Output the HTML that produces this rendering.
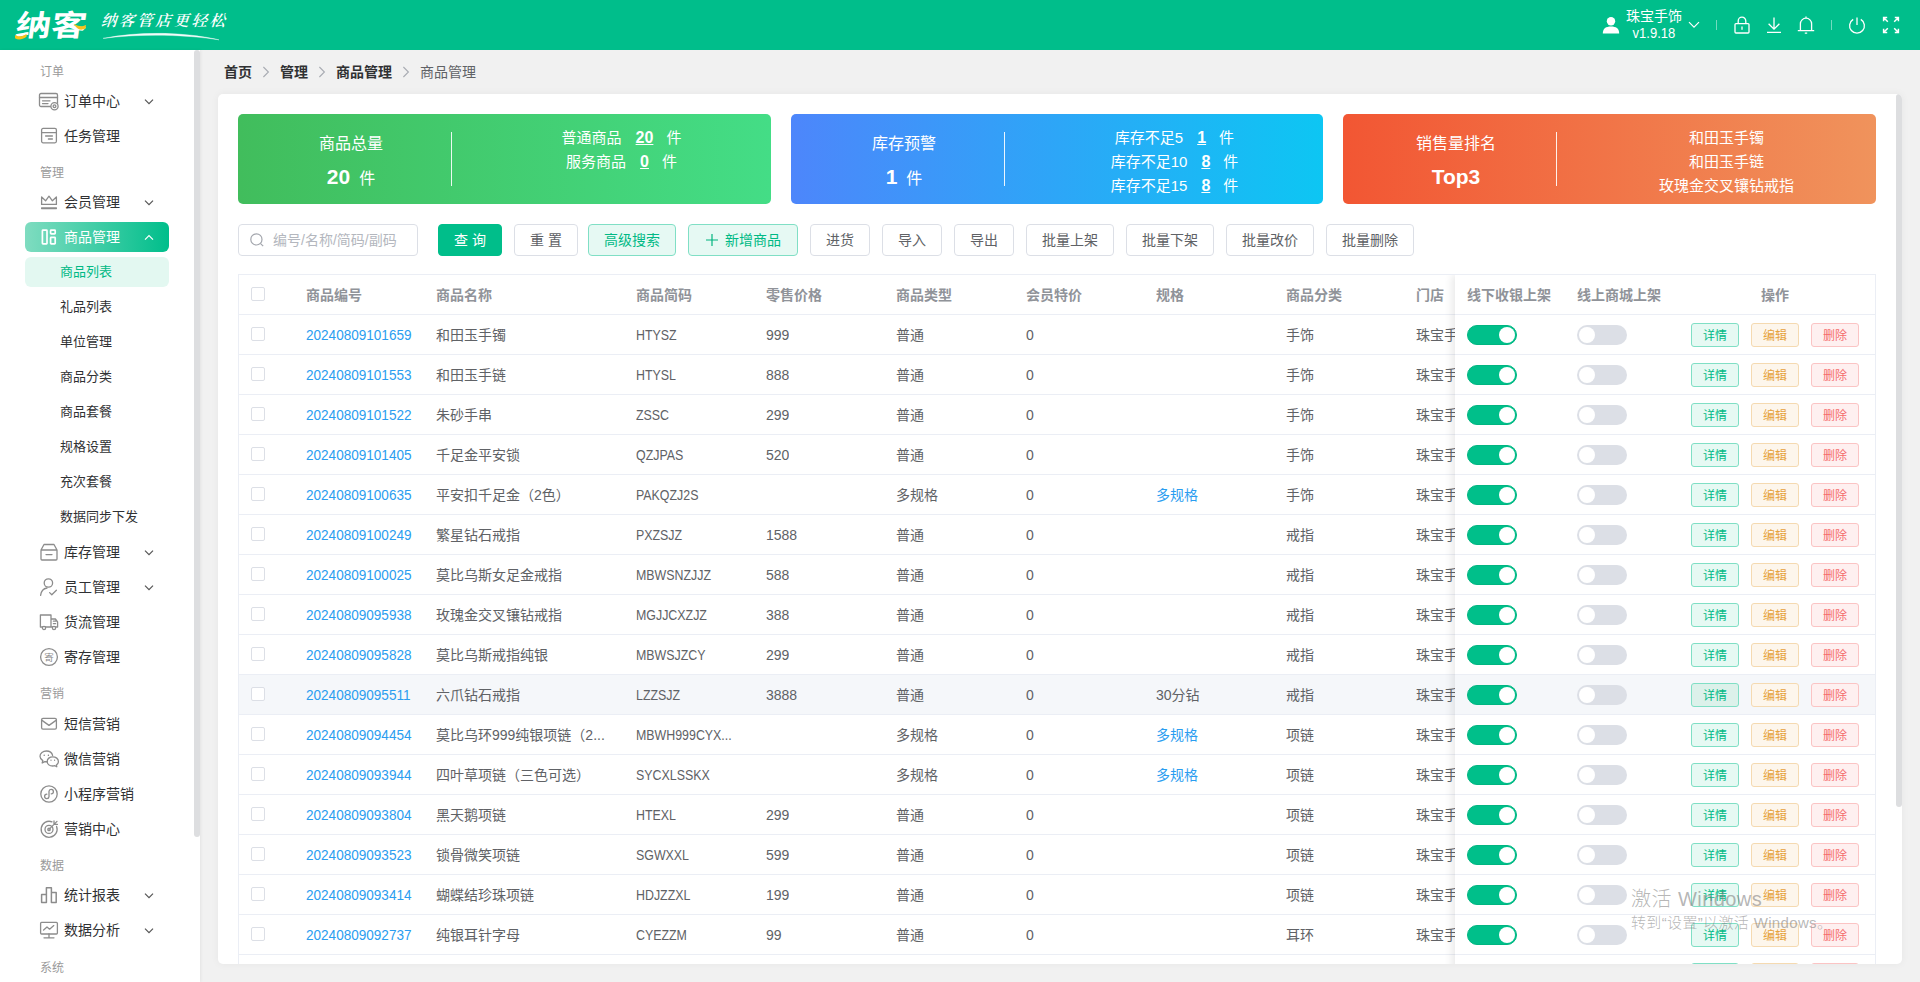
<!DOCTYPE html>
<html lang="zh-CN">
<head>
<meta charset="utf-8">
<title>商品管理</title>
<style>
*{box-sizing:border-box;margin:0;padding:0}
html,body{width:1920px;height:982px;overflow:hidden}
body{font-family:"Liberation Sans","Noto Sans CJK SC",sans-serif;font-size:14px;color:#606266;background:#f1f1f1;position:relative}
svg{display:block}
/* ---------- header ---------- */
#hd{position:absolute;left:0;top:0;width:1920px;height:50px;background:#00be8b;color:#fff}
#logo{position:absolute;left:16px;top:4px;font-size:29.5px;font-weight:700;letter-spacing:0;line-height:44px;transform:skewX(-8deg) scaleX(1.2);transform-origin:0 50%}
#slogan{position:absolute;left:101px;top:10px;font-size:15.5px;line-height:22px;letter-spacing:2.6px;font-family:"Liberation Serif","Noto Serif CJK SC",serif;font-style:italic;font-weight:600;transform:skewX(-4deg)}
#hd .user{position:absolute;left:1626px;top:8px;width:56px;text-align:center;font-size:14px;line-height:17px;white-space:nowrap}
#hd .ico{position:absolute;top:0}
#hd .sep{position:absolute;top:20px;width:1px;height:10px;background:rgba(255,255,255,.45)}
/* ---------- sidebar ---------- */
#sb{position:absolute;left:0;top:50px;width:200px;height:932px;background:#fff;overflow:hidden;box-shadow:1px 0 3px rgba(0,0,0,.06)}
#sb .thumb{position:absolute;left:194px;top:0;width:6px;height:787px;background:#dddee0;border-radius:3px}
#sb .lab{position:absolute;left:40px;font-size:12px;color:#9a9a9a;line-height:16px}
#sb .it{position:absolute;left:25px;width:144px;height:30px;line-height:30px;font-size:14px;color:#303133;border-radius:6px}
#sb .it .t{position:absolute;left:39px;top:0}
#sb .it svg.i{position:absolute;left:13px;top:4px}
#sb .it svg.ar{position:absolute;left:119px;top:12px}
#sb .it.on{background:linear-gradient(90deg,#7fdcc0 0%,#00be8b 100%);color:#fff}
#sb .sub{position:absolute;left:25px;width:144px;height:30px;line-height:30px;font-size:13px;color:#303133;border-radius:6px;padding-left:35px}
#sb .sub.on{background:#e3f8f1;color:#00b985}
/* ---------- main ---------- */
#bc{position:absolute;left:224px;top:62px;height:20px;line-height:20px;font-size:14px;color:#303133;font-weight:700;white-space:nowrap}
#bc span{position:absolute;top:0}
#bc .n{font-weight:400;color:#606266}
#bc svg{position:absolute;top:4px}
#card{position:absolute;left:218px;top:94px;width:1684px;height:870px;background:#fff;border-radius:5px;overflow:hidden;box-shadow:0 0 8px rgba(0,0,0,.05)}
#card .vthumb{position:absolute;left:1678px;top:0;width:6px;height:713px;background:#dddee0;border-radius:3px}
.stat{position:absolute;top:20px;width:533px;height:90px;border-radius:5px;color:#fff}
.stat .l{position:absolute;left:0;top:0;width:226px;text-align:center}
.stat .l .a{position:absolute;left:0;width:226px;top:19px;font-size:16px;line-height:22px}
.stat .l .b{position:absolute;left:0;width:226px;top:49px;font-size:16px;line-height:28px}
.stat .l .b b{font-size:21px;font-weight:700;margin-right:9px}
.stat .dv{position:absolute;left:213px;top:18px;width:1px;height:54px;background:rgba(255,255,255,.9)}
.stat .r{position:absolute;left:234px;width:299px;text-align:center;font-size:15px;line-height:24px}
.stat .r u{font-weight:700;font-size:16px;margin:0 13px 0 14px}
/* toolbar */
.inp{position:absolute;left:20px;top:130px;width:180px;height:32px;border:1px solid #dcdfe6;border-radius:4px;color:#b4b7be;font-size:14px;line-height:30px;padding-left:34px;white-space:nowrap}
.inp svg{position:absolute;left:10px;top:7px}
.btn{position:absolute;top:130px;height:32px;line-height:30px;border:1px solid #dcdfe6;border-radius:4px;background:#fff;color:#606266;font-size:14px;text-align:center;white-space:nowrap}
.btn.p{background:#00be8a;border-color:#00be8a;color:#fff}
.btn.g{background:#e6f9f3;border-color:#80dfc5;color:#00b985}
/* table */
#tb{position:absolute;left:20px;top:180px;width:1638px;height:700px;border-left:1px solid #ebeef5;border-top:1px solid #ebeef5;border-right:1px solid #ebeef5;overflow:hidden}
.row{position:absolute;left:0;width:1636px;height:40px;border-bottom:1px solid #ebeef5;line-height:41px;color:#606266;white-space:nowrap}
.row.h{color:#909399;font-weight:700}
.row.hv{background:#f5f7fa}
.row span{position:absolute;top:0;overflow:hidden;text-overflow:ellipsis}
.row a{color:#2a9df0;text-decoration:none}
.cb{position:absolute;left:12px;top:12px;width:14px;height:14px;border:1px solid #dcdfe6;border-radius:2px;background:#fff}
#fx{position:absolute;left:1216px;top:0;width:420px;height:700px;background:#fff;box-shadow:-3px 0 8px rgba(0,0,0,.09)}
#fx .row{width:420px}
#fx .row.hv{background:#f5f7fa}
.sw{position:absolute;top:10px;width:50px;height:20px;border-radius:10px;background:#dcdfe6}
.sw i{position:absolute;left:2px;top:2px;width:16px;height:16px;border-radius:8px;background:#fff}
.sw.on{background:#00bf8a;border:1px solid #00b681}
.sw.on i{top:1px}
.sw.on i{left:31px}
.ob{position:absolute;top:8px;width:48px;height:24px;line-height:24px;border-radius:3px;font-size:12px;font-weight:400;text-align:center;border:1px solid}
.ob.d{left:236px;color:#00b985;background:#e6f9f3;border-color:#80dfc5}
.ob.e{left:296px;color:#e6a23c;background:#fdf6ec;border-color:#f5dab1}
.ob.x{left:356px;color:#f56c6c;background:#fef0f0;border-color:#fbc4c4}
#wm{position:absolute;left:1631px;top:885px;color:rgba(120,120,120,.55);white-space:nowrap;font-family:"Liberation Sans","Noto Sans CJK SC",sans-serif}
#wm .a{font-size:20px;line-height:28px;font-weight:300;letter-spacing:.45px}
#wm .b{font-size:15px;line-height:20px;font-weight:300;letter-spacing:.35px}
.row a.id{display:inline-block;transform:scaleX(.968);transform-origin:0 50%}
.row em{font-style:normal;display:inline-block;transform:scaleX(.885);transform-origin:0 50%}
#hd .user em{font-style:normal;display:inline-block;transform:scaleX(.93)}
.row.hv .ob.d{background:#dcf1ea}
</style>
</head>
<body>

<div id="hd">
  <div id="logo">纳客</div>
  <svg class="ico" style="left:0;top:0" width="240" height="50" viewBox="0 0 240 50">
    <path d="M15 35 C19 37.2 22 36.6 26.5 34 L26.5 36.8 C22 40 18 40 15 38.2 Z" fill="#f6c21c"/>
    <path d="M73.6 24 C78 25.6 80 27.6 86 25 L85.6 28.2 C80 31.4 77 29 73.6 24 Z" fill="#f6c21c"/>
    <path d="M103 38.4 C140 31 185 32 219 39.8 C185 34.4 140 33.6 103 38.4 Z" fill="#fff" opacity=".95" stroke="#fff" stroke-width=".4"/>
  </svg>
  <div id="slogan">纳客管店更轻松</div>
  <svg class="ico" style="left:1600px;top:14px" width="22" height="22" viewBox="0 0 22 22"><circle cx="11" cy="7.2" r="4.2" fill="#fff"/><path d="M2.8 19.5 C2.8 14.5 6 12.6 11 12.6 C16 12.6 19.2 14.5 19.2 19.5 Z" fill="#fff"/></svg>
  <div class="user">珠宝手饰<br><em>v1.9.18</em></div>
  <svg class="ico" style="left:1688px;top:21px" width="12" height="8" viewBox="0 0 12 8"><path d="M1 1.2 L6 6.2 L11 1.2" fill="none" stroke="#fff" stroke-width="1.2"/></svg>
  <div class="sep" style="left:1716px"></div>
  <svg class="ico" style="left:1732px;top:15px" width="20" height="20" viewBox="0 0 20 20" fill="none" stroke="#fff" stroke-width="1.3"><rect x="3" y="8.6" width="14" height="9.4" rx="1"/><path d="M6.2 8.6 V6 a3.8 3.8 0 0 1 7.6 0 V8.6"/><path d="M10 11.6 v3.2"/></svg>
  <svg class="ico" style="left:1764px;top:15px" width="20" height="20" viewBox="0 0 20 20" fill="none" stroke="#fff" stroke-width="1.3"><path d="M10 2.5 V14 M4.6 8.8 L10 14.2 L15.4 8.8 M3 17.4 H17"/></svg>
  <svg class="ico" style="left:1796px;top:15px" width="20" height="20" viewBox="0 0 20 20" fill="none" stroke="#fff" stroke-width="1.3"><path d="M10 1.6 v1.6 M4.4 15.6 V8.8 a5.6 5.6 0 0 1 11.2 0 V15.6 M1.8 15.6 H18.2 M8.8 18.2 h2.4"/></svg>
  <div class="sep" style="left:1831px"></div>
  <svg class="ico" style="left:1847px;top:15px" width="20" height="20" viewBox="0 0 20 20" fill="none" stroke="#fff" stroke-width="1.3"><path d="M10 2.4 V10 M6.2 4.4 a7.4 7.4 0 1 0 7.6 0"/></svg>
  <svg class="ico" style="left:1881px;top:15px" width="20" height="20" viewBox="0 0 20 20" fill="none" stroke="#fff" stroke-width="1.5"><path d="M2.6 6.2 V2.6 H6.2 M2.8 2.8 L6.8 6.8 M13.8 2.6 H17.4 V6.2 M17.2 2.8 L13.2 6.8 M2.6 13.8 V17.4 H6.2 M2.8 17.2 L6.8 13.2 M17.4 13.8 V17.4 H13.8 M17.2 17.2 L13.2 13.2"/></svg>
</div>

<div id="sb">
<div class="thumb"></div>
<div class="lab" style="top:14px">订单</div>
<div class="it" style="top:36px"><svg class="i" width="22" height="22" viewBox="0 0 22 22" fill="none" stroke="#8c8c8c" stroke-width="1.3" stroke-linejoin="round" stroke-linecap="round"><rect x="1.5" y="3.5" width="18" height="13" rx="1.5"/><path d="M1.5 7.5 H19.5 M4.5 10.8 H12 M4.5 13.6 H10"/><circle cx="16.5" cy="16.2" r="3.6" fill="#fff"/><circle cx="16.5" cy="16.2" r="1.4"/></svg><div class="t">订单中心</div><svg class="ar" width="10" height="8" viewBox="0 0 10 8"><path d="M1 1.6 L5 5.6 L9 1.6" fill="none" stroke="#555" stroke-width="1.2"/></svg></div>
<div class="it" style="top:71px"><svg class="i" width="22" height="22" viewBox="0 0 22 22" fill="none" stroke="#8c8c8c" stroke-width="1.3" stroke-linejoin="round" stroke-linecap="round"><rect x="3.6" y="3.4" width="14.8" height="14.4" rx="1.5"/><path d="M3.6 7.6 H18.4 M7.6 11 H14.4 M10.4 14 H14.4"/></svg><div class="t">任务管理</div></div>
<div class="lab" style="top:115px">管理</div>
<div class="it" style="top:137px"><svg class="i" width="22" height="22" viewBox="0 0 22 22" fill="none" stroke="#8c8c8c" stroke-width="1.3" stroke-linejoin="round" stroke-linecap="round"><path d="M3.6 13.4 V6 L7.6 9.8 L11 5.2 L14.4 9.8 L18.4 6 V13.4 Z M3.6 16.8 H18.4 M3.6 17.6 H18.4"/></svg><div class="t">会员管理</div><svg class="ar" width="10" height="8" viewBox="0 0 10 8"><path d="M1 1.6 L5 5.6 L9 1.6" fill="none" stroke="#555" stroke-width="1.2"/></svg></div>
<div class="it on" style="top:172px"><svg class="i" width="22" height="22" viewBox="0 0 22 22" fill="none" stroke="#fff" stroke-width="1.3" stroke-linejoin="round" stroke-linecap="round"><rect x="4.4" y="4.2" width="4.6" height="13.6" rx=".6" stroke-width="1.7"/><rect x="12.6" y="4.2" width="4.6" height="3.6" rx=".6" stroke-width="1.7"/><rect x="12.6" y="11.4" width="4.6" height="6.4" rx=".6" stroke-width="1.7"/></svg><div class="t">商品管理</div><svg class="ar" width="10" height="8" viewBox="0 0 10 8"><path d="M1 5.6 L5 1.6 L9 5.6" fill="none" stroke="#fff" stroke-width="1.2"/></svg></div>
<div class="sub on" style="top:207px">商品列表</div>
<div class="sub" style="top:242px">礼品列表</div>
<div class="sub" style="top:277px">单位管理</div>
<div class="sub" style="top:312px">商品分类</div>
<div class="sub" style="top:347px">商品套餐</div>
<div class="sub" style="top:382px">规格设置</div>
<div class="sub" style="top:417px">充次套餐</div>
<div class="sub" style="top:452px">数据同步下发</div>
<div class="it" style="top:487px"><svg class="i" width="22" height="22" viewBox="0 0 22 22" fill="none" stroke="#8c8c8c" stroke-width="1.3" stroke-linejoin="round" stroke-linecap="round"><path d="M3 9 L6 3.5 H16 L19 9 M3 9 H19 V18 a1 1 0 0 1 -1 1 H4 a1 1 0 0 1 -1 -1 Z M8 13.6 H14"/></svg><div class="t">库存管理</div><svg class="ar" width="10" height="8" viewBox="0 0 10 8"><path d="M1 1.6 L5 5.6 L9 1.6" fill="none" stroke="#555" stroke-width="1.2"/></svg></div>
<div class="it" style="top:522px"><svg class="i" width="22" height="22" viewBox="0 0 22 22" fill="none" stroke="#8c8c8c" stroke-width="1.3" stroke-linejoin="round" stroke-linecap="round"><circle cx="10.4" cy="7" r="4.2"/><path d="M2.6 19.4 C3.2 14.8 6 12.4 9 12 M11.6 16.6 L13.8 18.8 L18.4 14.2"/></svg><div class="t">员工管理</div><svg class="ar" width="10" height="8" viewBox="0 0 10 8"><path d="M1 1.6 L5 5.6 L9 1.6" fill="none" stroke="#555" stroke-width="1.2"/></svg></div>
<div class="it" style="top:557px"><svg class="i" width="22" height="22" viewBox="0 0 22 22" fill="none" stroke="#8c8c8c" stroke-width="1.3" stroke-linejoin="round" stroke-linecap="round"><path d="M2.4 4 H13 V16 H2.4 Z M13 8 H17.4 L19.6 11 V16 H13 M15.4 10.2 H17.6 M15.4 12.6 H17.6"/><circle cx="6" cy="17" r="1.6" fill="#fff"/><circle cx="16" cy="17" r="1.6" fill="#fff"/></svg><div class="t">货流管理</div></div>
<div class="it" style="top:592px"><svg class="i" width="22" height="22" viewBox="0 0 22 22" fill="none" stroke="#8c8c8c" stroke-width="1.3" stroke-linejoin="round" stroke-linecap="round"><circle cx="11" cy="11" r="8.4"/><text x="11" y="14.6" font-size="9.5" text-anchor="middle" fill="#8c8c8c" stroke="none" font-family="Noto Sans CJK SC,sans-serif">寄</text></svg><div class="t">寄存管理</div></div>
<div class="lab" style="top:636px">营销</div>
<div class="it" style="top:659px"><svg class="i" width="22" height="22" viewBox="0 0 22 22" fill="none" stroke="#8c8c8c" stroke-width="1.3" stroke-linejoin="round" stroke-linecap="round"><rect x="3.6" y="5.4" width="14.8" height="10.8" rx="1.4"/><path d="M4 7.4 L11 12.4 L18 7.4"/></svg><div class="t">短信营销</div></div>
<div class="it" style="top:694px"><svg class="i" width="22" height="22" viewBox="0 0 22 22" fill="none" stroke="#8c8c8c" stroke-width="1.3" stroke-linejoin="round" stroke-linecap="round"><path d="M9.2 13.6 C8.6 13.8 7.6 13.8 6.8 13.6 L4.2 15 L4.8 12.6 C2.8 11.4 2 9.8 2 8.2 C2 5.2 5 3 8.4 3 C11.4 3 14 4.8 14.6 7.4"/><path d="M20.4 13.4 C20.4 10.8 17.8 8.8 14.8 8.8 C11.6 8.8 9.2 10.8 9.2 13.4 C9.2 16 11.6 18 14.8 18 C15.6 18 16.2 17.9 16.8 17.7 L18.8 18.8 L18.4 17 C19.6 16.1 20.4 14.8 20.4 13.4 Z"/><circle cx="6.2" cy="7.2" r=".7" fill="#7a7a7a" stroke="none"/><circle cx="10.4" cy="7.2" r=".7" fill="#7a7a7a" stroke="none"/><circle cx="13" cy="12.2" r=".6" fill="#7a7a7a" stroke="none"/><circle cx="16.6" cy="12.2" r=".6" fill="#7a7a7a" stroke="none"/></svg><div class="t">微信营销</div></div>
<div class="it" style="top:729px"><svg class="i" width="22" height="22" viewBox="0 0 22 22" fill="none" stroke="#8c8c8c" stroke-width="1.3" stroke-linejoin="round" stroke-linecap="round"><circle cx="11" cy="11" r="8.2"/><path d="M11 13.6 a2.2 2.2 0 1 1 -2.2 -2.4 M11 8.4 a2.2 2.2 0 1 1 2.2 2.4 M11 8.4 V13.6"/></svg><div class="t">小程序营销</div></div>
<div class="it" style="top:764px"><svg class="i" width="22" height="22" viewBox="0 0 22 22" fill="none" stroke="#8c8c8c" stroke-width="1.3" stroke-linejoin="round" stroke-linecap="round"><path d="M18.6 8.4 a8 8 0 1 1 -4.6 -4.6"/><circle cx="11" cy="11.4" r="4"/><circle cx="11" cy="11.4" r="1.2"/><path d="M11 11.4 L19 3.4 M16 3 V6.4 H19.4"/></svg><div class="t">营销中心</div></div>
<div class="lab" style="top:808px">数据</div>
<div class="it" style="top:830px"><svg class="i" width="22" height="22" viewBox="0 0 22 22" fill="none" stroke="#8c8c8c" stroke-width="1.3" stroke-linejoin="round" stroke-linecap="round"><path d="M3.6 18.4 V10.4 H8.4 V18.4 Z M8.4 18.4 V3.8 H13.4 V18.4 M13.4 18.4 V8.6 H18.2 V18.4 Z" stroke-width="1.5"/></svg><div class="t">统计报表</div><svg class="ar" width="10" height="8" viewBox="0 0 10 8"><path d="M1 1.6 L5 5.6 L9 1.6" fill="none" stroke="#555" stroke-width="1.2"/></svg></div>
<div class="it" style="top:865px"><svg class="i" width="22" height="22" viewBox="0 0 22 22" fill="none" stroke="#8c8c8c" stroke-width="1.3" stroke-linejoin="round" stroke-linecap="round"><rect x="2.6" y="3.4" width="16.8" height="11.6" rx="1"/><path d="M11 15 V18.6 M6 18.8 H16 M5.6 11 L9 8 L11.6 10.2 L15.8 6.6"/></svg><div class="t">数据分析</div><svg class="ar" width="10" height="8" viewBox="0 0 10 8"><path d="M1 1.6 L5 5.6 L9 1.6" fill="none" stroke="#555" stroke-width="1.2"/></svg></div>
<div class="lab" style="top:910px">系统</div>
</div>
<div id="bc"><span style="left:0">首页</span><svg style="left:38px" width="8" height="12" viewBox="0 0 8 12"><path d="M1.4 1 L6.4 6 L1.4 11" fill="none" stroke="#a8abb2" stroke-width="1.1"/></svg><span style="left:56px">管理</span><svg style="left:94px" width="8" height="12" viewBox="0 0 8 12"><path d="M1.4 1 L6.4 6 L1.4 11" fill="none" stroke="#a8abb2" stroke-width="1.1"/></svg><span style="left:112px">商品管理</span><svg style="left:178px" width="8" height="12" viewBox="0 0 8 12"><path d="M1.4 1 L6.4 6 L1.4 11" fill="none" stroke="#a8abb2" stroke-width="1.1"/></svg><span class="n" style="left:196px">商品管理</span></div>
<div id="card">

<div class="stat" style="left:20px;background:linear-gradient(90deg,#41bd5c 0%,#44dd86 100%)">
  <div class="l"><div class="a">商品总量</div><div class="b"><b>20</b>件</div></div><div class="dv"></div>
  <div class="r" style="top:12px"><div>普通商品<u>20</u>件</div><div>服务商品<u>0</u>件</div></div>
</div>
<div class="stat" style="left:573px;width:532px;background:linear-gradient(90deg,#4d86fb 0%,#0dc6f3 100%)">
  <div class="l"><div class="a">库存预警</div><div class="b"><b>1</b>件</div></div><div class="dv"></div>
  <div class="r" style="top:12px"><div>库存不足5<u>1</u>件</div><div>库存不足10<u>8</u>件</div><div>库存不足15<u>8</u>件</div></div>
</div>
<div class="stat" style="left:1125px;background:linear-gradient(90deg,#f25633 0%,#f0935c 100%)">
  <div class="l"><div class="a">销售量排名</div><div class="b"><b style="margin:0">Top3</b></div></div><div class="dv"></div>
  <div class="r" style="top:12px"><div>和田玉手镯</div><div>和田玉手链</div><div>玫瑰金交叉镶钻戒指</div></div>
</div>

<div class="inp"><svg width="16" height="16" viewBox="0 0 16 16" fill="none" stroke="#a3a6ad" stroke-width="1.2"><circle cx="7.4" cy="7.4" r="5.6"/><path d="M11.6 11.6 L14.2 14.2"/></svg>编号/名称/简码/副码</div>
<div class="btn p" style="left:220px;width:64px">查 询</div>
<div class="btn " style="left:296px;width:64px">重 置</div>
<div class="btn g" style="left:370px;width:88px">高级搜索</div>
<div class="btn g" style="left:470px;width:110px"><svg style="display:inline-block;vertical-align:-2px;margin-right:6px" width="14" height="14" viewBox="0 0 14 14"><path d="M7 1 V13 M1 7 H13" stroke="#00b47f" stroke-width="1.2"/></svg>新增商品</div>
<div class="btn " style="left:592px;width:60px">进货</div>
<div class="btn " style="left:664px;width:60px">导入</div>
<div class="btn " style="left:736px;width:60px">导出</div>
<div class="btn " style="left:808px;width:88px">批量上架</div>
<div class="btn " style="left:908px;width:88px">批量下架</div>
<div class="btn " style="left:1008px;width:88px">批量改价</div>
<div class="btn " style="left:1108px;width:88px">批量删除</div>
<div id="tb">
<div class="row h" style="top:0"><i class="cb"></i><span style="left:67px">商品编号</span><span style="left:197px">商品名称</span><span style="left:397px">商品简码</span><span style="left:527px">零售价格</span><span style="left:657px">商品类型</span><span style="left:787px">会员特价</span><span style="left:917px">规格</span><span style="left:1047px">商品分类</span><span style="left:1177px">门店</span></div>
<div class="row" style="top:40px"><i class="cb"></i><span style="left:67px"><a class="id">20240809101659</a></span><span style="left:197px">和田玉手镯</span><span style="left:397px"><em>HTYSZ</em></span><span style="left:527px">999</span><span style="left:657px">普通</span><span style="left:787px">0</span><span style="left:1047px">手饰</span><span style="left:1177px">珠宝手饰</span></div>
<div class="row" style="top:80px"><i class="cb"></i><span style="left:67px"><a class="id">20240809101553</a></span><span style="left:197px">和田玉手链</span><span style="left:397px"><em>HTYSL</em></span><span style="left:527px">888</span><span style="left:657px">普通</span><span style="left:787px">0</span><span style="left:1047px">手饰</span><span style="left:1177px">珠宝手饰</span></div>
<div class="row" style="top:120px"><i class="cb"></i><span style="left:67px"><a class="id">20240809101522</a></span><span style="left:197px">朱砂手串</span><span style="left:397px"><em>ZSSC</em></span><span style="left:527px">299</span><span style="left:657px">普通</span><span style="left:787px">0</span><span style="left:1047px">手饰</span><span style="left:1177px">珠宝手饰</span></div>
<div class="row" style="top:160px"><i class="cb"></i><span style="left:67px"><a class="id">20240809101405</a></span><span style="left:197px">千足金平安锁</span><span style="left:397px"><em>QZJPAS</em></span><span style="left:527px">520</span><span style="left:657px">普通</span><span style="left:787px">0</span><span style="left:1047px">手饰</span><span style="left:1177px">珠宝手饰</span></div>
<div class="row" style="top:200px"><i class="cb"></i><span style="left:67px"><a class="id">20240809100635</a></span><span style="left:197px">平安扣千足金（2色）</span><span style="left:397px"><em>PAKQZJ2S</em></span><span style="left:657px">多规格</span><span style="left:787px">0</span><span style="left:917px"><a>多规格</a></span><span style="left:1047px">手饰</span><span style="left:1177px">珠宝手饰</span></div>
<div class="row" style="top:240px"><i class="cb"></i><span style="left:67px"><a class="id">20240809100249</a></span><span style="left:197px">繁星钻石戒指</span><span style="left:397px"><em>PXZSJZ</em></span><span style="left:527px">1588</span><span style="left:657px">普通</span><span style="left:787px">0</span><span style="left:1047px">戒指</span><span style="left:1177px">珠宝手饰</span></div>
<div class="row" style="top:280px"><i class="cb"></i><span style="left:67px"><a class="id">20240809100025</a></span><span style="left:197px">莫比乌斯女足金戒指</span><span style="left:397px"><em>MBWSNZJJZ</em></span><span style="left:527px">588</span><span style="left:657px">普通</span><span style="left:787px">0</span><span style="left:1047px">戒指</span><span style="left:1177px">珠宝手饰</span></div>
<div class="row" style="top:320px"><i class="cb"></i><span style="left:67px"><a class="id">20240809095938</a></span><span style="left:197px">玫瑰金交叉镶钻戒指</span><span style="left:397px"><em>MGJJCXZJZ</em></span><span style="left:527px">388</span><span style="left:657px">普通</span><span style="left:787px">0</span><span style="left:1047px">戒指</span><span style="left:1177px">珠宝手饰</span></div>
<div class="row" style="top:360px"><i class="cb"></i><span style="left:67px"><a class="id">20240809095828</a></span><span style="left:197px">莫比乌斯戒指纯银</span><span style="left:397px"><em>MBWSJZCY</em></span><span style="left:527px">299</span><span style="left:657px">普通</span><span style="left:787px">0</span><span style="left:1047px">戒指</span><span style="left:1177px">珠宝手饰</span></div>
<div class="row hv" style="top:400px"><i class="cb"></i><span style="left:67px"><a class="id">20240809095511</a></span><span style="left:197px">六爪钻石戒指</span><span style="left:397px"><em>LZZSJZ</em></span><span style="left:527px">3888</span><span style="left:657px">普通</span><span style="left:787px">0</span><span style="left:917px">30分钻</span><span style="left:1047px">戒指</span><span style="left:1177px">珠宝手饰</span></div>
<div class="row" style="top:440px"><i class="cb"></i><span style="left:67px"><a class="id">20240809094454</a></span><span style="left:197px">莫比乌环999纯银项链（2...</span><span style="left:397px"><em>MBWH999CYX...</em></span><span style="left:657px">多规格</span><span style="left:787px">0</span><span style="left:917px"><a>多规格</a></span><span style="left:1047px">项链</span><span style="left:1177px">珠宝手饰</span></div>
<div class="row" style="top:480px"><i class="cb"></i><span style="left:67px"><a class="id">20240809093944</a></span><span style="left:197px">四叶草项链（三色可选）</span><span style="left:397px"><em>SYCXLSSKX</em></span><span style="left:657px">多规格</span><span style="left:787px">0</span><span style="left:917px"><a>多规格</a></span><span style="left:1047px">项链</span><span style="left:1177px">珠宝手饰</span></div>
<div class="row" style="top:520px"><i class="cb"></i><span style="left:67px"><a class="id">20240809093804</a></span><span style="left:197px">黑天鹅项链</span><span style="left:397px"><em>HTEXL</em></span><span style="left:527px">299</span><span style="left:657px">普通</span><span style="left:787px">0</span><span style="left:1047px">项链</span><span style="left:1177px">珠宝手饰</span></div>
<div class="row" style="top:560px"><i class="cb"></i><span style="left:67px"><a class="id">20240809093523</a></span><span style="left:197px">锁骨微笑项链</span><span style="left:397px"><em>SGWXXL</em></span><span style="left:527px">599</span><span style="left:657px">普通</span><span style="left:787px">0</span><span style="left:1047px">项链</span><span style="left:1177px">珠宝手饰</span></div>
<div class="row" style="top:600px"><i class="cb"></i><span style="left:67px"><a class="id">20240809093414</a></span><span style="left:197px">蝴蝶结珍珠项链</span><span style="left:397px"><em>HDJZZXL</em></span><span style="left:527px">199</span><span style="left:657px">普通</span><span style="left:787px">0</span><span style="left:1047px">项链</span><span style="left:1177px">珠宝手饰</span></div>
<div class="row" style="top:640px"><i class="cb"></i><span style="left:67px"><a class="id">20240809092737</a></span><span style="left:197px">纯银耳针字母</span><span style="left:397px"><em>CYEZZM</em></span><span style="left:527px">99</span><span style="left:657px">普通</span><span style="left:787px">0</span><span style="left:1047px">耳环</span><span style="left:1177px">珠宝手饰</span></div>
<div class="row" style="top:680px"><i class="cb"></i><span style="left:67px"><a class="id">20240809092512</a></span><span style="left:197px">珍珠耳环</span><span style="left:397px"><em>ZZEH</em></span><span style="left:527px">129</span><span style="left:657px">普通</span><span style="left:787px">0</span><span style="left:1047px">耳环</span><span style="left:1177px">珠宝手饰</span></div>
<div id="fx">
<div class="row h" style="top:0"><span style="left:12px">线下收银上架</span><span style="left:122px">线上商城上架</span><span style="left:220px;width:200px;text-align:center">操作</span></div>
<div class="row" style="top:40px"><i class="sw on" style="left:12px"><i></i></i><i class="sw" style="left:122px"><i></i></i><b class="ob d">详情</b><b class="ob e">编辑</b><b class="ob x">删除</b></div>
<div class="row" style="top:80px"><i class="sw on" style="left:12px"><i></i></i><i class="sw" style="left:122px"><i></i></i><b class="ob d">详情</b><b class="ob e">编辑</b><b class="ob x">删除</b></div>
<div class="row" style="top:120px"><i class="sw on" style="left:12px"><i></i></i><i class="sw" style="left:122px"><i></i></i><b class="ob d">详情</b><b class="ob e">编辑</b><b class="ob x">删除</b></div>
<div class="row" style="top:160px"><i class="sw on" style="left:12px"><i></i></i><i class="sw" style="left:122px"><i></i></i><b class="ob d">详情</b><b class="ob e">编辑</b><b class="ob x">删除</b></div>
<div class="row" style="top:200px"><i class="sw on" style="left:12px"><i></i></i><i class="sw" style="left:122px"><i></i></i><b class="ob d">详情</b><b class="ob e">编辑</b><b class="ob x">删除</b></div>
<div class="row" style="top:240px"><i class="sw on" style="left:12px"><i></i></i><i class="sw" style="left:122px"><i></i></i><b class="ob d">详情</b><b class="ob e">编辑</b><b class="ob x">删除</b></div>
<div class="row" style="top:280px"><i class="sw on" style="left:12px"><i></i></i><i class="sw" style="left:122px"><i></i></i><b class="ob d">详情</b><b class="ob e">编辑</b><b class="ob x">删除</b></div>
<div class="row" style="top:320px"><i class="sw on" style="left:12px"><i></i></i><i class="sw" style="left:122px"><i></i></i><b class="ob d">详情</b><b class="ob e">编辑</b><b class="ob x">删除</b></div>
<div class="row" style="top:360px"><i class="sw on" style="left:12px"><i></i></i><i class="sw" style="left:122px"><i></i></i><b class="ob d">详情</b><b class="ob e">编辑</b><b class="ob x">删除</b></div>
<div class="row hv" style="top:400px"><i class="sw on" style="left:12px"><i></i></i><i class="sw" style="left:122px"><i></i></i><b class="ob d">详情</b><b class="ob e">编辑</b><b class="ob x">删除</b></div>
<div class="row" style="top:440px"><i class="sw on" style="left:12px"><i></i></i><i class="sw" style="left:122px"><i></i></i><b class="ob d">详情</b><b class="ob e">编辑</b><b class="ob x">删除</b></div>
<div class="row" style="top:480px"><i class="sw on" style="left:12px"><i></i></i><i class="sw" style="left:122px"><i></i></i><b class="ob d">详情</b><b class="ob e">编辑</b><b class="ob x">删除</b></div>
<div class="row" style="top:520px"><i class="sw on" style="left:12px"><i></i></i><i class="sw" style="left:122px"><i></i></i><b class="ob d">详情</b><b class="ob e">编辑</b><b class="ob x">删除</b></div>
<div class="row" style="top:560px"><i class="sw on" style="left:12px"><i></i></i><i class="sw" style="left:122px"><i></i></i><b class="ob d">详情</b><b class="ob e">编辑</b><b class="ob x">删除</b></div>
<div class="row" style="top:600px"><i class="sw on" style="left:12px"><i></i></i><i class="sw" style="left:122px"><i></i></i><b class="ob d">详情</b><b class="ob e">编辑</b><b class="ob x">删除</b></div>
<div class="row" style="top:640px"><i class="sw on" style="left:12px"><i></i></i><i class="sw" style="left:122px"><i></i></i><b class="ob d">详情</b><b class="ob e">编辑</b><b class="ob x">删除</b></div>
<div class="row" style="top:680px"><i class="sw on" style="left:12px"><i></i></i><i class="sw" style="left:122px"><i></i></i><b class="ob d">详情</b><b class="ob e">编辑</b><b class="ob x">删除</b></div>
</div>
</div>
<div class="vthumb"></div>
</div>
<div id="wm"><div class="a">激活 Windows</div><div class="b">转到“设置”以激活 Windows。</div></div>
</body>
</html>
